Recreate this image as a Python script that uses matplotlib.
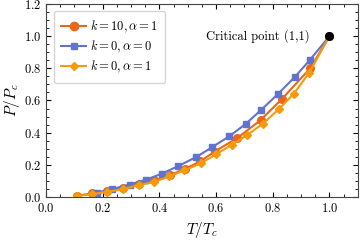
import matplotlib
matplotlib.use('Agg')
import matplotlib.pyplot as plt
from matplotlib.ticker import MultipleLocator

# k = 10, alpha = 1
t_k10a1 = [0.108, 0.162, 0.216, 0.271, 0.327, 0.382, 0.437, 0.490, 0.544, 0.595, 0.675, 0.757, 0.832, 0.932, 1.0]
p_k10a1 = [0.008, 0.023, 0.036, 0.056, 0.080, 0.103, 0.136, 0.175, 0.222, 0.283, 0.367, 0.478, 0.609, 0.800, 1.0]

# k = 0, alpha = 0
t_k0a0 = [0.178, 0.234, 0.295, 0.353, 0.409, 0.467, 0.529, 0.586, 0.646, 0.704, 0.758, 0.818, 0.877, 0.930, 1.0]
p_k0a0 = [0.028, 0.050, 0.078, 0.108, 0.146, 0.193, 0.248, 0.310, 0.377, 0.454, 0.540, 0.640, 0.745, 0.850, 1.0]

# k = 0, alpha = 1
t_k0a1 = [0.108, 0.162, 0.216, 0.271, 0.327, 0.382, 0.435, 0.488, 0.546, 0.599, 0.655, 0.710, 0.766, 0.821, 0.874, 0.928, 1.0]
p_k0a1 = [0.006, 0.018, 0.033, 0.049, 0.074, 0.094, 0.129, 0.166, 0.209, 0.265, 0.324, 0.386, 0.457, 0.546, 0.642, 0.771, 1.0]

plt.rcParams['font.family'] = 'cmr10'
plt.rcParams['mathtext.fontset'] = 'cm'
plt.rcParams['axes.formatter.use_mathtext'] = True

fig = plt.figure(figsize=(3.6, 2.43), dpi=100)
ax = fig.add_axes([0.128, 0.189, 0.866, 0.795])

ax.plot(t_k10a1, p_k10a1, color='#EC6519', marker='o', ms=5.5, lw=1.5,
        label=r'$k=10, \alpha=1$')
ax.plot(t_k0a0, p_k0a0, color='#6074CF', marker='s', ms=4, lw=1.5,
        label=r'$k=0, \alpha=0$')
ax.plot(t_k0a1, p_k0a1, color='#F59B0B', marker='D', ms=4, lw=1.5,
        label=r'$k=0, \alpha=1$')
ax.plot([1.0], [1.0], 'o', color='black', ms=5.5, zorder=5)
ax.text(0.93, 1.0, 'Critical point (1,1)', ha='right', va='center', fontsize=9)

ax.set_xlim(0, 1.1)
ax.set_ylim(0, 1.2)
ax.xaxis.set_major_locator(MultipleLocator(0.2))
ax.xaxis.set_minor_locator(MultipleLocator(0.05))
ax.yaxis.set_major_locator(MultipleLocator(0.2))
ax.yaxis.set_minor_locator(MultipleLocator(0.05))
ax.tick_params(which='both', direction='in', top=True, right=True, labelsize=9)
ax.tick_params(which='major', length=3.5)
ax.tick_params(which='minor', length=2)
for s in ax.spines.values():
    s.set_color('#444444')

ax.set_xlabel(r'$T/T_c$', fontsize=11)
ax.set_ylabel(r'$P/P_c$', fontsize=11, labelpad=1)

leg = ax.legend(loc='upper left', fontsize=9, frameon=True, fancybox=True,
                edgecolor='#cccccc', handlelength=2.0, handletextpad=0.3,
                borderpad=0.6, labelspacing=0.3, borderaxespad=0.6,
                markerscale=1.1)

fig.savefig('out.png', dpi=100)
